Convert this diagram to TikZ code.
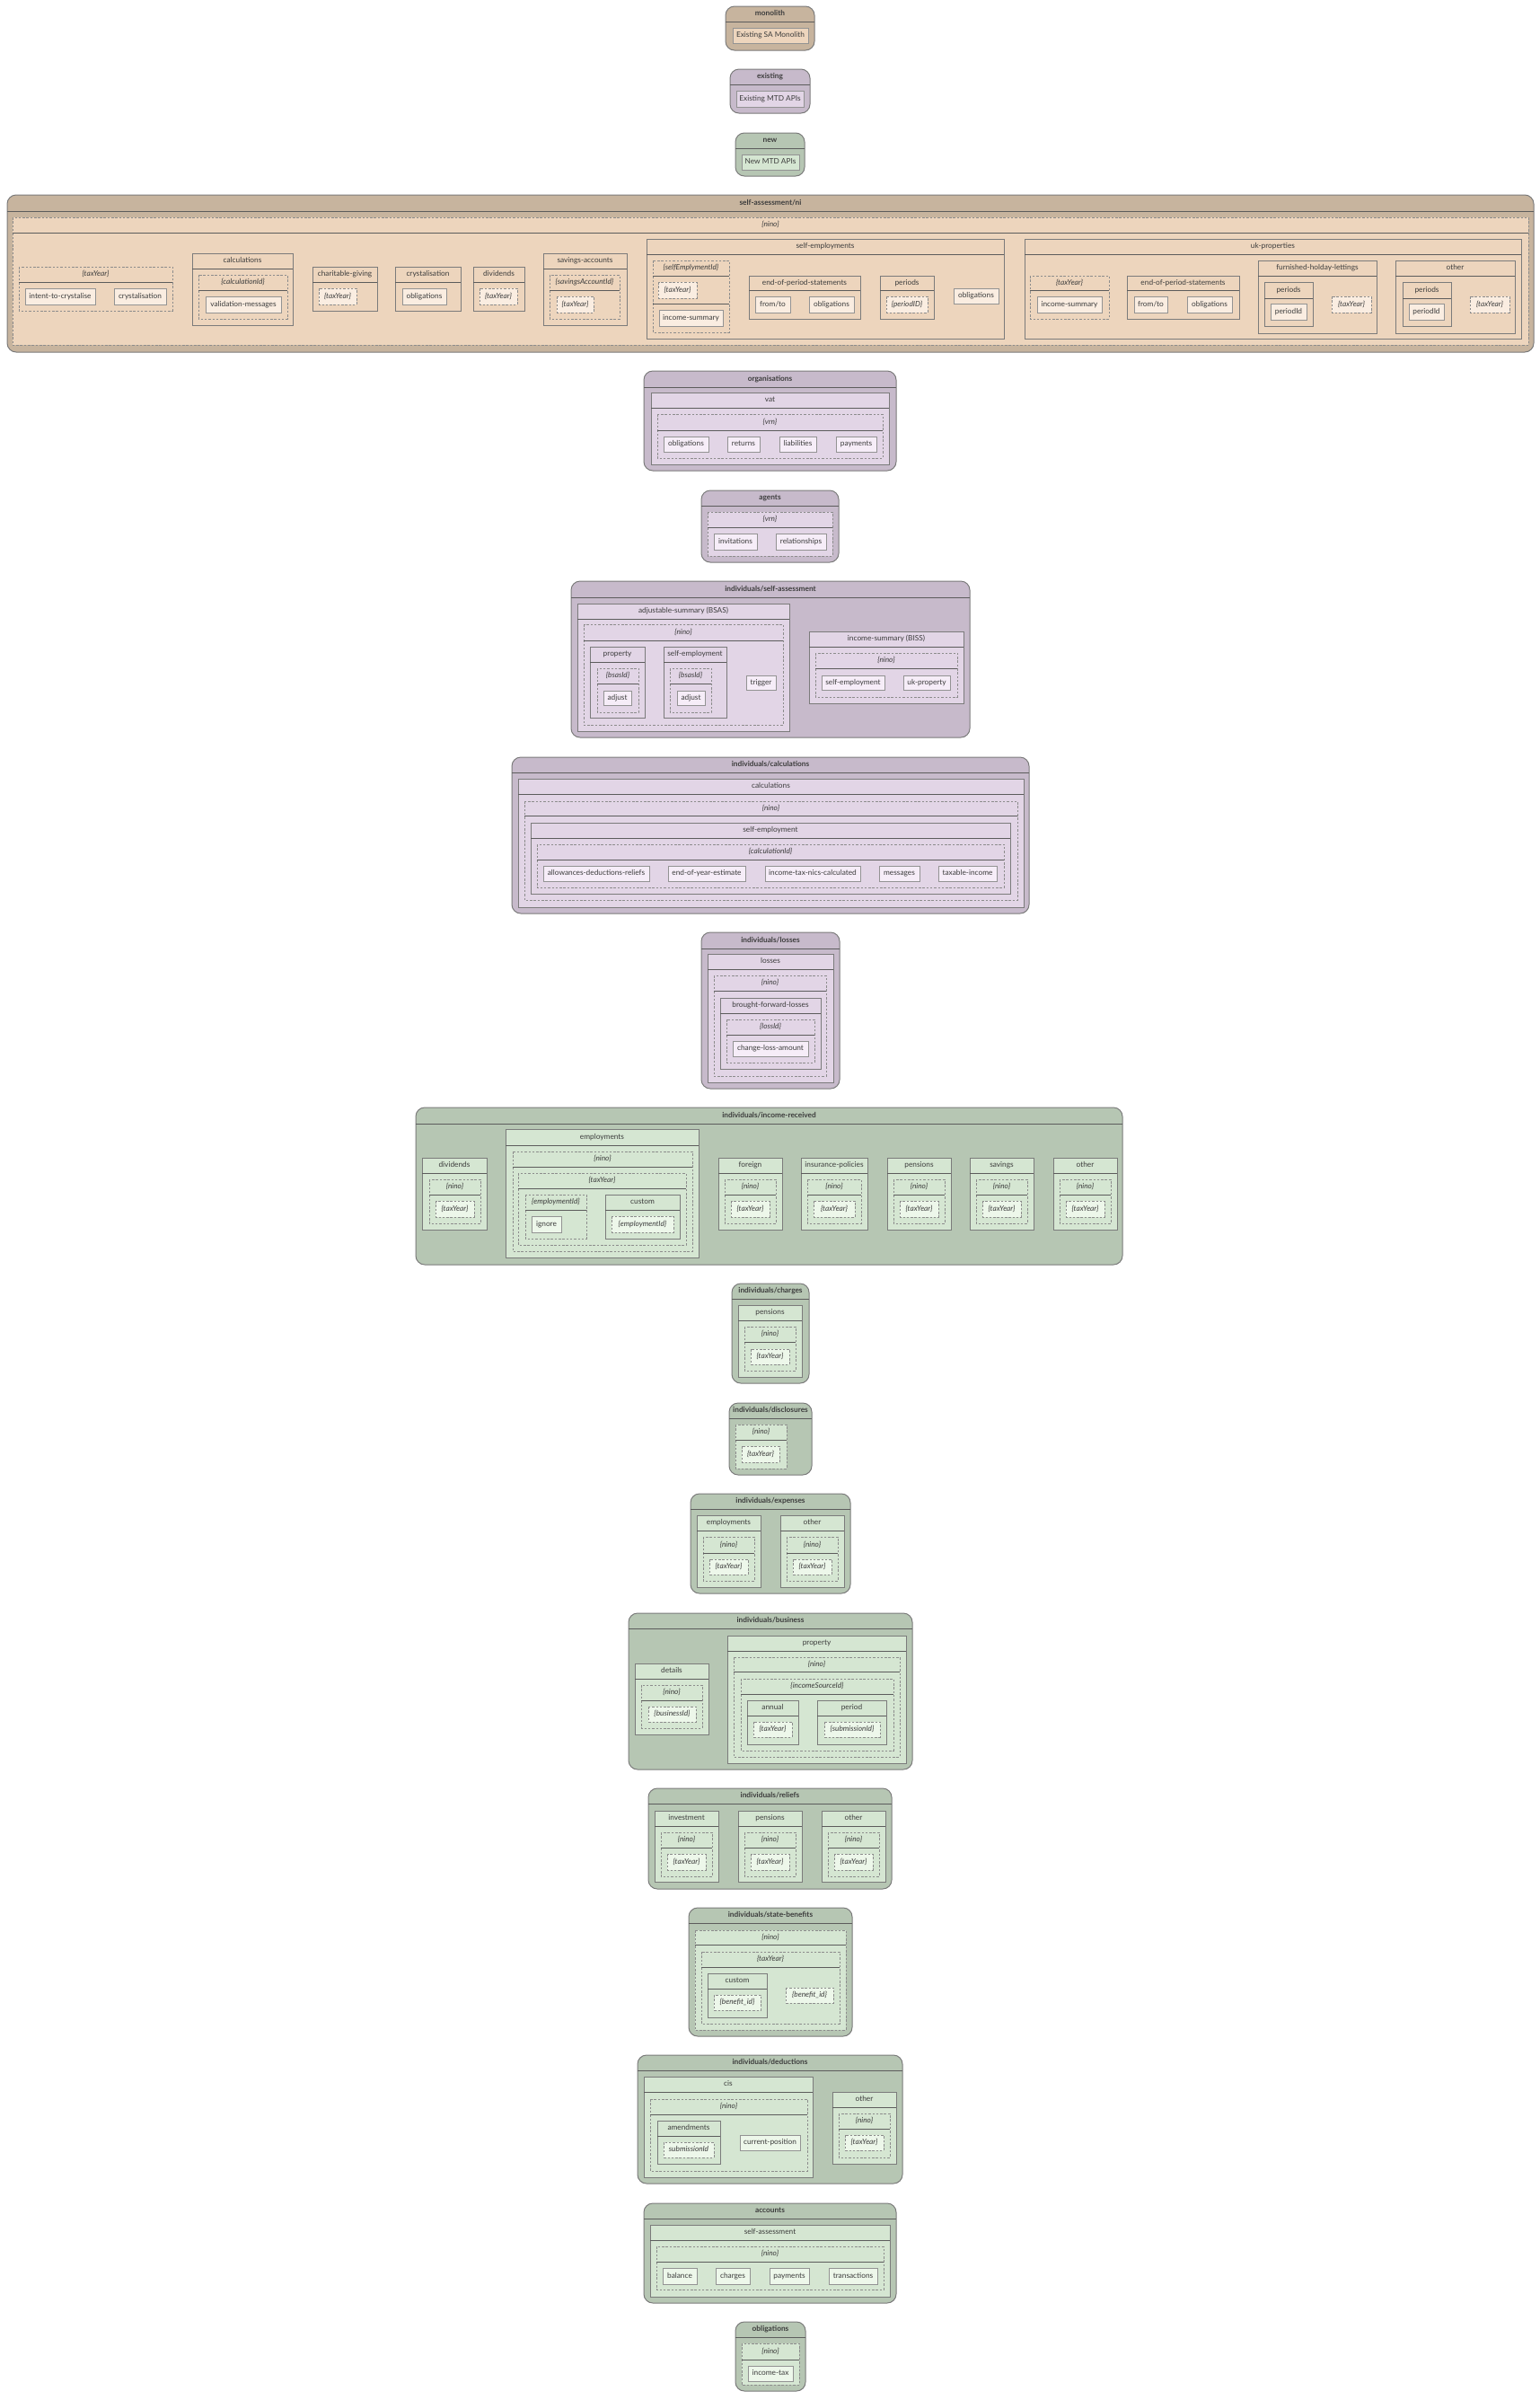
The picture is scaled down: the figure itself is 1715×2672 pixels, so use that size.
\documentclass[tikz,border=0pt]{standalone}
\usepackage{fontspec}
\setmainfont{Lato}
\usepackage{tikz}
\usetikzlibrary{shadows}
\definecolor{bordc}{HTML}{7B7B7B}
\definecolor{headc}{HTML}{5C5C5C}
\definecolor{dashc}{HTML}{8C8C8C}
\definecolor{leafbord}{HTML}{939393}
\definecolor{txtc}{HTML}{3C3C3C}
\definecolor{brOut}{HTML}{C7B49E}
\definecolor{brMid}{HTML}{EDD5BD}
\definecolor{brLeaf}{HTML}{FAEDE1}
\definecolor{purOut}{HTML}{C7BACB}
\definecolor{purMid}{HTML}{E2D5E6}
\definecolor{purLeaf}{HTML}{F6EDF8}
\definecolor{grnOut}{HTML}{B6C6B3}
\definecolor{grnMid}{HTML}{D5E6D2}
\definecolor{grnLeaf}{HTML}{EDF7EA}
\newcommand{\usepal}[1]{\colorlet{outc}{#1Out}\colorlet{midc}{#1Mid}\colorlet{leafc}{#1Leaf}}
% rounded api group: x1 y1 x2 y2 header-y name title
\newcommand{\outbox}[7]{%
  \draw[outerbox] (#1,#2) rectangle (#3,#4);
  \draw[headline] (#1,#5) -- (#3,#5);
  \node[titletext] (#6) at ({(#1+#3)/2},{(#2+#5)/2}) {#7};}
% path segment with children
\newcommand{\grp}[7]{%
  \draw[grpbox] (#1,#2) rectangle (#3,#4);
  \draw[headline] (#1,#5) -- (#3,#5);
  \node[grptext] (#6) at ({(#1+#3)/2},{(#2+#5)/2}) {#7};}
\newcommand{\dgrp}[7]{%
  \draw[dgrpbox] (#1,#2) rectangle (#3,#4);
  \draw[headline] (#1,#5) -- (#3,#5);
  \node[dtext] (#6) at ({(#1+#3)/2},{(#2+#5)/2}) {#7};}
% end points: [extra style] x1 y1 x2 y2 name text
\newcommand{\leaf}[7][]{%
  \draw[leafbox,#1] (#2,#3) rectangle (#4,#5);
  \node[grptext] (#6) at ({(#2+#4)/2},{(#3+#5)/2}) {#7};}
\newcommand{\dleaf}[6]{%
  \draw[dleafbox] (#1,#2) rectangle (#3,#4);
  \node[dtext] (#5) at ({(#1+#3)/2},{(#2+#4)/2}) {#6};}

\begin{document}
\begin{tikzpicture}[x=1pt,y=-1pt,
    outerbox/.style={draw=bordc, fill=outc, rounded corners=10pt, line width=1pt},
    grpbox/.style={draw=bordc, fill=midc, line width=1pt},
    dgrpbox/.style={draw=dashc, fill=midc, line width=1pt, dash pattern=on 2.5pt off 1.8pt},
    leafbox/.style={draw=leafbord, fill=leafc, line width=1pt,
      drop shadow={shadow xshift=0.8pt, shadow yshift=-0.8pt, opacity=0.25, fill=black!60}},
    dleafbox/.style={draw=dashc, fill=leafc, line width=1pt, dash pattern=on 2.5pt off 1.8pt},
    headline/.style={draw=headc, line width=1pt},
    txt/.style={text=txtc, inner sep=0pt, text height=6pt, text depth=1.6pt},
    titletext/.style={txt, font=\bfseries\fontsize{8.3}{10}\selectfont},
    grptext/.style={txt, font=\fontsize{8.3}{10}\selectfont},
    dtext/.style={txt, font=\itshape\fontsize{8.3}{10}\selectfont}]
  \fill[white] (0,0) rectangle (1715,2672);
  \useasboundingbox (0,0) rectangle (1715,2672);
  % legend
  \usepal{br}
  \outbox{808}{7}{907}{56}{24}{mono}{monolith}
  \leaf[fill=midc]{816}{31}{900}{48}{monoApi}{Existing SA Monolith}
  \usepal{pur}
  \outbox{813}{77}{902}{126}{94}{exist}{existing}
  \leaf[fill=midc]{820}{101}{895}{119}{existApi}{Existing MTD APIs}
  \usepal{grn}
  \outbox{819}{148}{896}{196}{165}{new}{new}
  \leaf[fill=midc]{826}{172}{890}{189}{newApi}{New MTD APIs}
  % self-assessment/ni
  \usepal{br}
  \outbox{8}{217}{1708}{392}{235}{sani}{self-assessment/ni}
  \dgrp{14}{242}{1702}{384}{259}{saNino}{\{nino\}}
  \dgrp{21}{297}{192}{346}{314}{saTy}{\{taxYear\}}
  \leaf{28}{321}{106}{339}{saItc}{intent-to-crystalise}
  \leaf{127}{321}{185}{339}{saCry}{crystalisation}
  \grp{214}{282}{326}{362}{299}{saCalc}{calculations}
  \dgrp{221}{306}{320}{355}{323}{saCalcId}{\{calculationId\}}
  \leaf{229}{330}{313}{348}{saVal}{validation-messages}
  \grp{348}{297}{420}{346}{314}{saChar}{charitable-giving}
  \dleaf{355}{321}{397}{339}{saCharTy}{\{taxYear\}}
  \grp{440}{297}{513}{346}{314}{saCrys}{crystalisation}
  \leaf{448}{321}{497}{339}{saCrysOb}{obligations}
  \grp{527}{297}{584}{346}{314}{saDiv}{dividends}
  \dleaf{534}{321}{576}{339}{saDivTy}{\{taxYear\}}
  \grp{605}{282}{698}{362}{299}{saSav}{savings-accounts}
  \dgrp{612}{306}{690}{355}{323}{saSavId}{\{savingsAccountId\}}
  \dleaf{620}{330}{661}{348}{saSavTy}{\{taxYear\}}
  \grp{720}{266}{1118}{377}{283}{saSe}{self-employments}
  \dgrp{727}{290}{812}{370}{307}{saSeId}{\{selfEmplymentId\}}
  \dleaf{733}{314}{776}{332}{saSeTy}{\{taxYear\}}
  \draw[headline] (727,338) -- (812,338);
  \leaf{734}{345}{805}{363}{saSeIs}{income-summary}
  \grp{834}{307}{958}{355}{323}{saSeEop}{end-of-period-statements}
  \leaf{841}{330}{880}{348}{saSeFt}{from/to}
  \leaf{901}{330}{951}{348}{saSeOb}{obligations}
  \grp{980}{307}{1040}{355}{323}{saSePer}{periods}
  \dleaf{987}{330}{1033}{348}{saSePid}{\{periodID\}}
  \leaf{1062}{321}{1112}{338}{saSeObl}{obligations}
  \grp{1141}{266}{1694}{377}{283}{saUk}{uk-properties}
  \dgrp{1147}{307}{1235}{355}{323}{saUkTy}{\{taxYear\}}
  \leaf{1155}{330}{1227}{348}{saUkIs}{income-summary}
  \grp{1255}{307}{1380}{355}{323}{saUkEop}{end-of-period-statements}
  \leaf{1263}{330}{1300}{348}{saUkFt}{from/to}
  \leaf{1322}{330}{1372}{348}{saUkOb}{obligations}
  \grp{1401}{290}{1533}{371}{307}{saFhl}{furnished-holday-lettings}
  \grp{1408}{314}{1462}{363}{332}{saFhlPer}{periods}
  \leaf{1415}{338}{1455}{356}{saFhlPid}{periodId}
  \dleaf{1483}{330}{1527}{348}{saFhlTy}{\{taxYear\}}
  \grp{1554}{290}{1687}{371}{307}{saOth}{other}
  \grp{1562}{314}{1616}{363}{332}{saOthPer}{periods}
  \leaf{1569}{338}{1608}{356}{saOthPid}{periodId}
  \dleaf{1637}{330}{1681}{348}{saOthTy}{\{taxYear\}}
  % organisations
  \usepal{pur}
  \outbox{717}{413}{998}{524}{431}{org}{organisations}
  \grp{725}{437}{990}{517}{454}{orgVat}{vat}
  \dgrp{732}{461}{983}{510}{479}{orgVrn}{\{vrn\}}
  \leaf{739}{486}{789}{503}{orgOb}{obligations}
  \leaf{810}{486}{846}{503}{orgRet}{returns}
  \leaf{868}{486}{909}{503}{orgLia}{liabilities}
  \leaf{931}{486}{976}{503}{orgPay}{payments}
  % agents
  \outbox{781}{546}{934}{626}{563}{agt}{agents}
  \dgrp{788}{570}{927}{619}{587}{agtVrn}{\{vrn\}}
  \leaf{795}{594}{843}{612}{agtInv}{invitations}
  \leaf{864}{594}{920}{612}{agtRel}{relationships}
  % individuals/self-assessment
  \outbox{636}{647}{1080}{821}{665}{isa}{individuals/self-assessment}
  \grp{643}{672}{879}{814}{689}{isaBsas}{adjustable-summary (BSAS)}
  \dgrp{650}{695}{872}{807}{713}{isaNino}{\{nino\}}
  \grp{657}{720}{718}{799}{737}{isaProp}{property}
  \dgrp{665}{744}{711}{793}{761}{isaPropId}{\{bsasId\}}
  \leaf{672}{769}{703}{785}{isaPropAdj}{adjust}
  \grp{739}{720}{809}{799}{737}{isaSe}{self-employment}
  \dgrp{746}{744}{792}{793}{761}{isaSeId}{\{bsasId\}}
  \leaf{754}{769}{785}{785}{isaSeAdj}{adjust}
  \leaf{831}{752}{864}{768}{isaTrig}{trigger}
  \grp{901}{703}{1073}{783}{720}{isaBiss}{income-summary (BISS)}
  \dgrp{908}{727}{1066}{776}{744}{isaBissNino}{\{nino\}}
  \leaf{915}{752}{985}{768}{isaBissSe}{self-employment}
  \leaf{1006}{752}{1058}{768}{isaBissUk}{uk-property}
  % individuals/calculations
  \outbox{570}{843}{1146}{1017}{860}{ical}{individuals/calculations}
  \grp{577}{867}{1140}{1010}{884}{icalCalc}{calculations}
  \dgrp{584}{892}{1133}{1002}{908}{icalNino}{\{nino\}}
  \grp{591}{916}{1125}{995}{933}{icalSe}{self-employment}
  \dgrp{598}{940}{1118}{988}{957}{icalId}{\{calculationId\}}
  \leaf{605}{964}{723}{981}{icalAdr}{allowances-deductions-reliefs}
  \leaf{744}{964}{830}{981}{icalEoy}{end-of-year-estimate}
  \leaf{852}{964}{958}{981}{icalItn}{income-tax-nics-calculated}
  \leaf{979}{964}{1024}{981}{icalMsg}{messages}
  \leaf{1045}{964}{1110}{981}{icalTax}{taxable-income}
  % individuals/losses
  \outbox{781}{1038}{935}{1212}{1056}{ilos}{individuals/losses}
  \grp{788}{1062}{928}{1205}{1079}{ilosLos}{losses}
  \dgrp{795}{1086}{920}{1198}{1103}{ilosNino}{\{nino\}}
  \grp{802}{1111}{914}{1190}{1128}{ilosBfl}{brought-forward-losses}
  \dgrp{809}{1135}{907}{1183}{1152}{ilosId}{\{lossId\}}
  \leaf{816}{1159}{900}{1176}{ilosCla}{change-loss-amount}
  % individuals/income-received
  \usepal{grn}
  \outbox{463}{1233}{1250}{1408}{1251}{iinc}{individuals/income-received}
  \grp{470}{1289}{542}{1369}{1306}{iincDiv}{dividends}
  \dgrp{478}{1313}{535}{1362}{1330}{iincDivNino}{\{nino\}}
  \dleaf{485}{1337}{528}{1355}{iincDivTy}{\{taxYear\}}
  \grp{563}{1257}{778}{1400}{1275}{iincEmp}{employments}
  \dgrp{571}{1282}{771}{1393}{1299}{iincEmpNino}{\{nino\}}
  \dgrp{577}{1306}{764}{1386}{1323}{iincEmpTy}{\{taxYear\}}
  \dgrp{585}{1330}{653}{1379}{1347}{iincEmpId}{\{employmentId\}}
  \leaf{592}{1354}{625}{1372}{iincIgn}{ignore}
  \grp{674}{1330}{757}{1379}{1347}{iincCus}{custom}
  \dleaf{681}{1354}{750}{1372}{iincCusId}{\{employmentId\}}
  \grp{800}{1289}{871}{1369}{1306}{iincFor}{foreign}
  \dgrp{807}{1313}{864}{1362}{1330}{iincForNino}{\{nino\}}
  \dleaf{814}{1337}{857}{1355}{iincForTy}{\{taxYear\}}
  \grp{892}{1289}{966}{1369}{1306}{iincIns}{insurance-policies}
  \dgrp{899}{1313}{959}{1362}{1330}{iincInsNino}{\{nino\}}
  \dleaf{906}{1337}{952}{1355}{iincInsTy}{\{taxYear\}}
  \grp{988}{1289}{1059}{1369}{1306}{iincPen}{pensions}
  \dgrp{995}{1313}{1052}{1362}{1330}{iincPenNino}{\{nino\}}
  \dleaf{1002}{1337}{1045}{1355}{iincPenTy}{\{taxYear\}}
  \grp{1080}{1289}{1151}{1369}{1306}{iincSav}{savings}
  \dgrp{1087}{1313}{1144}{1362}{1330}{iincSavNino}{\{nino\}}
  \dleaf{1094}{1337}{1137}{1355}{iincSavTy}{\{taxYear\}}
  \grp{1173}{1289}{1244}{1369}{1306}{iincOth}{other}
  \dgrp{1180}{1313}{1237}{1362}{1330}{iincOthNino}{\{nino\}}
  \dleaf{1187}{1337}{1230}{1355}{iincOthTy}{\{taxYear\}}
  % individuals/charges
  \outbox{815}{1429}{901}{1540}{1446}{ichg}{individuals/charges}
  \grp{822}{1453}{893}{1533}{1470}{ichgPen}{pensions}
  \dgrp{829}{1477}{886}{1526}{1494}{ichgNino}{\{nino\}}
  \dleaf{836}{1502}{879}{1519}{ichgTy}{\{taxYear\}}
  % individuals/disclosures
  \outbox{812}{1562}{904}{1642}{1579}{idis}{individuals/disclosures}
  \dgrp{819}{1586}{876}{1635}{1603}{idisNino}{\{nino\}}
  \dleaf{826}{1610}{868}{1628}{idisTy}{\{taxYear\}}
  % individuals/expenses
  \outbox{769}{1663}{947}{1774}{1680}{iexp}{individuals/expenses}
  \grp{776}{1687}{847}{1767}{1704}{iexpEmp}{employments}
  \dgrp{783}{1711}{840}{1760}{1729}{iexpEmpNino}{\{nino\}}
  \dleaf{790}{1736}{833}{1753}{iexpEmpTy}{\{taxYear\}}
  \grp{869}{1687}{940}{1767}{1704}{iexpOth}{other}
  \dgrp{876}{1711}{933}{1760}{1729}{iexpOthNino}{\{nino\}}
  \dleaf{883}{1736}{926}{1753}{iexpOthTy}{\{taxYear\}}
  % individuals/business
  \outbox{700}{1796}{1016}{1970}{1813}{ibus}{individuals/business}
  \grp{707}{1852}{789}{1931}{1869}{ibusDet}{details}
  \dgrp{714}{1876}{782}{1924}{1893}{ibusDetNino}{\{nino\}}
  \dleaf{722}{1900}{775}{1917}{ibusDetId}{\{businessId\}}
  \grp{810}{1821}{1009}{1963}{1838}{ibusProp}{property}
  \dgrp{817}{1845}{1002}{1956}{1861}{ibusPropNino}{\{nino\}}
  \dgrp{825}{1869}{995}{1949}{1886}{ibusSrc}{\{incomeSourceId\}}
  \grp{832}{1893}{889}{1942}{1910}{ibusAnn}{annual}
  \dleaf{839}{1917}{882}{1934}{ibusAnnTy}{\{taxYear\}}
  \grp{910}{1893}{987}{1942}{1910}{ibusPer}{period}
  \dleaf{918}{1917}{980}{1934}{ibusPerId}{\{submissionId\}}
  % individuals/reliefs
  \outbox{722}{1991}{993}{2103}{2008}{irel}{individuals/reliefs}
  \grp{729}{2016}{800}{2095}{2033}{irelInv}{investment}
  \dgrp{736}{2040}{793}{2089}{2057}{irelInvNino}{\{nino\}}
  \dleaf{743}{2064}{786}{2082}{irelInvTy}{\{taxYear\}}
  \grp{822}{2016}{893}{2095}{2033}{irelPen}{pensions}
  \dgrp{829}{2040}{886}{2089}{2057}{irelPenNino}{\{nino\}}
  \dleaf{836}{2064}{879}{2082}{irelPenTy}{\{taxYear\}}
  \grp{915}{2016}{986}{2095}{2033}{irelOth}{other}
  \dgrp{922}{2040}{979}{2089}{2057}{irelOthNino}{\{nino\}}
  \dleaf{929}{2064}{972}{2082}{irelOthTy}{\{taxYear\}}
  % individuals/state-benefits
  \outbox{767}{2124}{949}{2267}{2141}{isb}{individuals/state-benefits}
  \dgrp{774}{2149}{942}{2260}{2165}{isbNino}{\{nino\}}
  \dgrp{781}{2173}{935}{2253}{2190}{isbTy}{\{taxYear\}}
  \grp{788}{2197}{854}{2246}{2214}{isbCus}{custom}
  \dleaf{795}{2221}{847}{2238}{isbCusId}{\{benefit\_id\}}
  \dleaf{875}{2213}{928}{2230}{isbId}{\{benefit\_id\}}
  % individuals/deductions
  \outbox{710}{2288}{1005}{2431}{2305}{ided}{individuals/deductions}
  \grp{717}{2312}{905}{2424}{2329}{idedCis}{cis}
  \dgrp{724}{2337}{899}{2417}{2354}{idedNino}{\{nino\}}
  \grp{732}{2361}{802}{2409}{2378}{idedAmd}{amendments}
  \dleaf{739}{2385}{795}{2402}{idedSub}{submissionId}
  \leaf{824}{2377}{891}{2394}{idedCur}{current-position}
  \grp{927}{2329}{998}{2409}{2346}{idedOth}{other}
  \dgrp{934}{2353}{991}{2402}{2370}{idedOthNino}{\{nino\}}
  \dleaf{941}{2377}{984}{2394}{idedOthTy}{\{taxYear\}}
  % accounts
  \outbox{717}{2453}{998}{2564}{2470}{acc}{accounts}
  \grp{724}{2477}{991}{2557}{2494}{accSa}{self-assessment}
  \dgrp{731}{2501}{984}{2549}{2518}{accNino}{\{nino\}}
  \leaf{738}{2525}{776}{2543}{accBal}{balance}
  \leaf{797}{2525}{835}{2543}{accChg}{charges}
  \leaf{857}{2525}{901}{2543}{accPay}{payments}
  \leaf{923}{2525}{977}{2543}{accTrn}{transactions}
  % obligations
  \outbox{819}{2585}{897}{2662}{2602}{obl}{obligations}
  \dgrp{826}{2609}{890}{2655}{2627}{oblNino}{\{nino\}}
  \leaf{833}{2634}{883}{2651}{oblIt}{income-tax}
\end{tikzpicture}
\end{document}
